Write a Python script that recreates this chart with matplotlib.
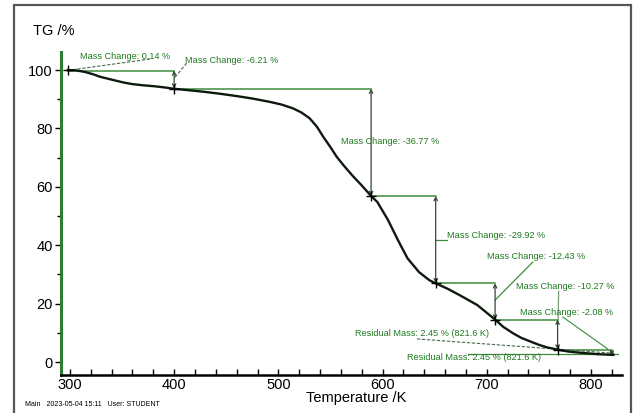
import matplotlib
matplotlib.use("Agg")
import matplotlib.pyplot as plt
from matplotlib.patches import Rectangle
from matplotlib.ticker import MultipleLocator

plt.rcParams["font.family"] = ["Liberation Sans", "DejaVu Sans"]

# TG curve (temperature in K, mass in %)
temp = [298, 305, 314, 322, 329, 337, 345, 352, 360, 370, 380, 390, 399, 414,
        428, 444, 460, 476, 492, 503, 514, 522, 530, 537, 543, 550, 556, 563,
        572, 580, 589, 595, 605, 615, 624, 635, 645, 651, 663, 674, 691, 708,
        716, 725, 733, 742, 750, 758, 768, 778, 789, 806, 818, 821.6]
tg = [100.0, 99.95, 99.4, 98.6, 97.7, 97.0, 96.3, 95.7, 95.2, 94.8, 94.5, 94.1,
      93.65, 93.1, 92.6, 91.9, 91.1, 90.2, 89.1, 88.2, 86.9, 85.5, 83.5, 80.6,
      77.2, 73.6, 70.3, 67.2, 63.5, 60.5, 56.88, 54.8, 48.8, 41.6, 35.5, 30.8,
      28.0, 26.96, 25.0, 22.9, 19.5, 14.53, 12.0, 9.9, 8.3, 7.0, 5.9, 5.0, 4.26,
      3.6, 3.2, 2.7, 2.5, 2.45]

# step evaluation
start_level = 99.86
step_temps = [400, 589, 651, 708, 768, 820]
mass_changes = [-6.21, -36.77, -29.92, -12.43, -10.27, -2.08]
first_change = 0.14
residual = 2.45
residual_temp = 821.6

GREEN = "#3d8b3d"
TEXT_GREEN = "#1f7a1f"
ARROW = "#2f4a2f"

fig = plt.figure(figsize=(6.35, 4.13), dpi=100)
fig.patches.append(Rectangle((14 / 635, -0.01), 617 / 635, (413 - 5) / 413 + 0.01,
                             transform=fig.transFigure, fill=False,
                             edgecolor="#555555", linewidth=1.6))

ax = fig.add_axes([61 / 635, 1 - 375 / 413, 561 / 635, 323 / 413])
ax.set_xlim(291.4, 829.8)
ax.set_ylim(-4.45, 106.2)

for s in ("top", "right"):
    ax.spines[s].set_visible(False)
ax.spines["left"].set_color("#2e7d32")
ax.spines["left"].set_linewidth(2.2)
ax.spines["bottom"].set_color("black")
ax.spines["bottom"].set_linewidth(1.8)

ax.xaxis.set_major_locator(MultipleLocator(100))
ax.xaxis.set_minor_locator(MultipleLocator(20))
ax.yaxis.set_major_locator(MultipleLocator(20))
ax.yaxis.set_minor_locator(MultipleLocator(10))
ax.tick_params(axis="x", which="both", direction="in", length=4, width=1,
               labelsize=10.5, pad=2)
ax.tick_params(axis="y", which="major", direction="out", length=4, width=1,
               labelsize=10.5, pad=2)
ax.tick_params(axis="y", which="minor", direction="out", length=3, width=1)

# step construction lines and arrows
levels = [start_level]
for c in mass_changes:
    levels.append(levels[-1] + c)

ax.plot([temp[0], step_temps[0]], [start_level, start_level], color=GREEN, lw=1.1)
for i, t in enumerate(step_temps):
    top, bot = levels[i], levels[i + 1]
    ax.annotate("", xy=(t, bot), xytext=(t, top),
                arrowprops=dict(arrowstyle="<->", color=ARROW, lw=0.9,
                                shrinkA=0, shrinkB=0, mutation_scale=6))
    if i + 1 < len(step_temps):
        ax.plot([t, step_temps[i + 1]], [bot, bot], color=GREEN, lw=1.1)

ax.plot(temp, tg, color="#0d1a0d", lw=1.7, zorder=5, solid_joinstyle="round")
ax.plot(step_temps[:-1], levels[1:-1], "+", color="black", ms=7, mew=1, zorder=6)
ax.plot([temp[0]], [tg[0]], "+", color="black", ms=7, mew=1, zorder=6)

# labels and leaders
fs = 6.6
ax.text(309.6, 104.8, f"Mass Change: {first_change:.2f} %", color=TEXT_GREEN,
        fontsize=fs, va="center")
ax.plot([376.8, 298], [103.8, 99.9], color="#4a6a4a", lw=0.8, ls=(0, (3, 1.5)))

ax.text(410.4, 103.4, f"Mass Change: {mass_changes[0]:.2f} %", color=TEXT_GREEN,
        fontsize=fs, va="center")
ax.plot([412, 400], [102.4, 97.2], color="#4a6a4a", lw=0.8, ls=(0, (3, 1.5)))

ax.text(560, 75.7, f"Mass Change: {mass_changes[1]:.2f} %", color=TEXT_GREEN,
        fontsize=fs, va="center")

ax.text(661.8, 43.5, f"Mass Change: {mass_changes[2]:.2f} %", color=TEXT_GREEN,
        fontsize=fs, va="center")
ax.plot([651, 662], [41.8, 41.8], color=GREEN, lw=0.9)

ax.text(700, 36.3, f"Mass Change: {mass_changes[3]:.2f} %", color=TEXT_GREEN,
        fontsize=fs, va="center")
ax.plot([744, 708], [34.2, 21.2], color=GREEN, lw=0.9)

ax.text(728, 25.7, f"Mass Change: {mass_changes[4]:.2f} %", color=TEXT_GREEN,
        fontsize=fs, va="center")
ax.plot([769, 768.5], [24.2, 14.5], color="#7a9a7a", lw=0.9)

ax.text(732, 16.8, f"Mass Change: {mass_changes[5]:.2f} %", color=TEXT_GREEN,
        fontsize=fs, va="center")
ax.plot([773, 816], [15.4, 4.5], color=GREEN, lw=0.8)

res_text = f"Residual Mass: {residual:.2f} % ({residual_temp:.1f} K)"
ax.text(573.5, 9.9, res_text, color=TEXT_GREEN, fontsize=fs, va="center")
ax.plot([633, 818], [7.9, 3.1], color="#4a6a4a", lw=0.8, ls=(0, (3, 1.5)))
ax.text(623.4, 1.7, res_text, color=TEXT_GREEN, fontsize=fs, va="center")
ax.plot([682, 826], [2.6, 2.6], color=GREEN, lw=0.9)

fig.text(33 / 635, 1 - 31 / 413, "TG /%", fontsize=10.5, va="center")
fig.text(356 / 635, 1 - 398 / 413, "Temperature /K", fontsize=10.5,
         va="center", ha="center")
fig.text(25 / 635, 1 - 405 / 413, "Main   2023-05-04 15:11   User: STUDENT",
         fontsize=5, va="center")

fig.savefig("out.png", dpi=100)
